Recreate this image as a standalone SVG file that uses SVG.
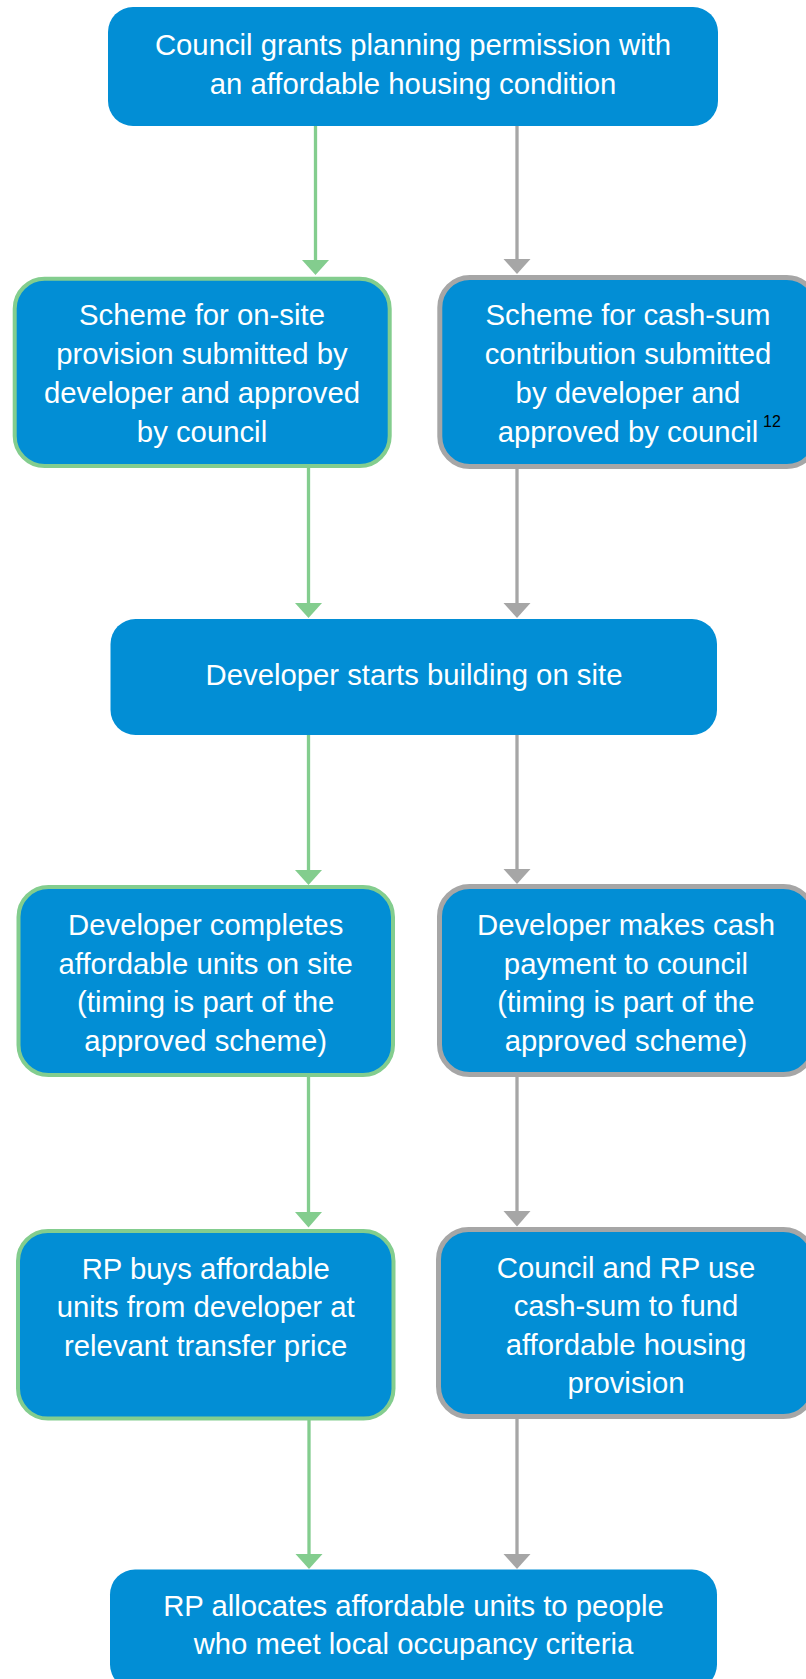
<svg xmlns="http://www.w3.org/2000/svg" width="806" height="1679" viewBox="0 0 806 1679">
<style>
.box{fill:#028ED5}
.g{stroke:#83CD8E;stroke-width:4}
.k{stroke:#A6A6A6;stroke-width:5}
.t{font-family:"Liberation Sans",Arial,sans-serif;font-size:29.3px;fill:#FFFFFF;text-anchor:middle}
.sup{font-family:"Liberation Sans",Arial,sans-serif;font-size:16px;fill:#000000}
.lg{stroke:#83CD8E;stroke-width:3.3;fill:none}
.lk{stroke:#A6A6A6;stroke-width:3.3;fill:none}
.hg{fill:#83CD8E}
.hk{fill:#A6A6A6}
</style>
<rect width="806" height="1679" fill="#FFFFFF"/>
<g id="connectors">
<line class="lg" x1="315.5" y1="126" x2="315.5" y2="261"/>
<polygon class="hg" points="302,260 329,260 315.5,275"/>
<line class="lk" x1="517" y1="126" x2="517" y2="261"/>
<polygon class="hk" points="503.5,259 530.5,259 517,274"/>
<line class="lg" x1="308.5" y1="468" x2="308.5" y2="604"/>
<polygon class="hg" points="295,603 322,603 308.5,618"/>
<line class="lk" x1="517" y1="469" x2="517" y2="604"/>
<polygon class="hk" points="503.5,603 530.5,603 517,618"/>
<line class="lg" x1="308.5" y1="735" x2="308.5" y2="871"/>
<polygon class="hg" points="295,870 322,870 308.5,885"/>
<line class="lk" x1="517" y1="735" x2="517" y2="870"/>
<polygon class="hk" points="503.5,869 530.5,869 517,884"/>
<line class="lg" x1="308.5" y1="1077" x2="308.5" y2="1213"/>
<polygon class="hg" points="295,1212 322,1212 308.5,1227.5"/>
<line class="lk" x1="517" y1="1077" x2="517" y2="1212"/>
<polygon class="hk" points="503.5,1211 530.5,1211 517,1226.5"/>
<line class="lg" x1="309" y1="1420" x2="309" y2="1555"/>
<polygon class="hg" points="295.5,1554 322.5,1554 309,1569"/>
<line class="lk" x1="517" y1="1419" x2="517" y2="1555"/>
<polygon class="hk" points="503.5,1554 530.5,1554 517,1569"/>
</g>
<g id="n1">
<rect class="box" x="108" y="7" width="610" height="119" rx="25"/>
<text class="t" x="413" y="55">Council grants planning permission with</text>
<text class="t" x="413" y="94">an affordable housing condition</text>
</g>
<g id="n2">
<rect class="box g" x="14.7" y="278.7" width="375" height="187.3" rx="30"/>
<text class="t" x="202" y="325">Scheme for on-site</text>
<text class="t" x="202" y="364">provision submitted by</text>
<text class="t" x="202" y="403">developer and approved</text>
<text class="t" x="202" y="442">by council</text>
</g>
<g id="n3">
<rect class="box k" x="439.8" y="277.5" width="377" height="189" rx="30"/>
<text class="t" x="628" y="325">Scheme for cash-sum</text>
<text class="t" x="628" y="364">contribution submitted</text>
<text class="t" x="628" y="403">by developer and</text>
<text class="t" x="628" y="442">approved by council</text>
<text class="sup" x="763" y="427">12</text>
</g>
<g id="n4">
<rect class="box" x="110.5" y="619" width="606.5" height="116" rx="25"/>
<text class="t" x="414" y="685">Developer starts building on site</text>
</g>
<g id="n5">
<rect class="box g" x="18.5" y="887" width="374.5" height="188" rx="30"/>
<text class="t" x="205.7" y="935">Developer completes</text>
<text class="t" x="205.7" y="973.5">affordable units on site</text>
<text class="t" x="205.7" y="1012">(timing is part of the</text>
<text class="t" x="205.7" y="1050.5">approved scheme)</text>
</g>
<g id="n6">
<rect class="box k" x="439.5" y="886.5" width="374" height="188" rx="30"/>
<text class="t" x="626" y="935">Developer makes cash</text>
<text class="t" x="626" y="973.5">payment to council</text>
<text class="t" x="626" y="1012">(timing is part of the</text>
<text class="t" x="626" y="1050.5">approved scheme)</text>
</g>
<g id="n7">
<rect class="box g" x="18" y="1231" width="375.5" height="187.6" rx="30"/>
<text class="t" x="205.7" y="1279">RP buys affordable</text>
<text class="t" x="205.7" y="1317">units from developer at</text>
<text class="t" x="205.7" y="1356">relevant transfer price</text>
</g>
<g id="n8">
<rect class="box k" x="438.5" y="1229.5" width="375" height="187" rx="30"/>
<text class="t" x="626" y="1277.5">Council and RP use</text>
<text class="t" x="626" y="1316">cash-sum to fund</text>
<text class="t" x="626" y="1354.5">affordable housing</text>
<text class="t" x="626" y="1393">provision</text>
</g>
<g id="n9">
<rect class="box" x="110" y="1569.5" width="607" height="120" rx="25"/>
<text class="t" x="413.5" y="1615.5">RP allocates affordable units to people</text>
<text class="t" x="413.5" y="1654">who meet local occupancy criteria</text>
</g>
</svg>
